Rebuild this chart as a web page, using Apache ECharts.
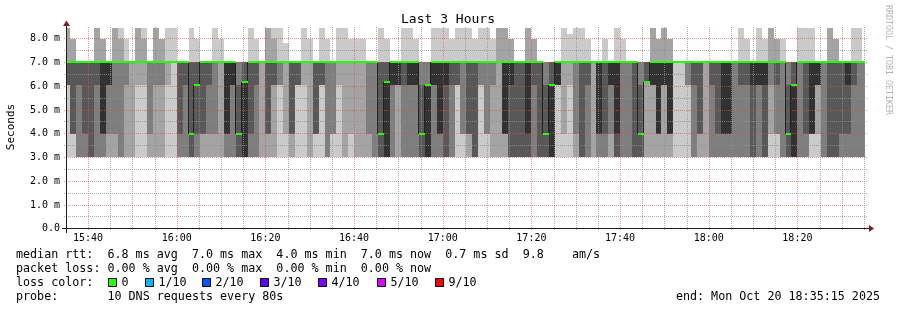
<!DOCTYPE html>
<html><head><meta charset="utf-8">
<script src="https://cdn.jsdelivr.net/npm/echarts@6/dist/echarts.min.js"></script>
<style>html,body{margin:0;padding:0;background:#fff}#c{width:897px;height:310px}</style>
</head><body><div id="c"></div>
<script>
// ---- data ----
const rttLevelsMs = {a:3.0, b:3.95, c:6.05, g:6.15, d:7.0, h:7.8, e:7.95, i:8.2, f:8.45};
const stepSec = 80;
const firstStepStart = 56080;   // 15:34:40 (seconds of day)
const viewStart = 56115;        // 15:35:15
const viewEnd = 66915;          // 18:35:15
// 10 pings per 80 s step, one letter per ping (level in rttLevelsMs)
const pingCodes = [
"acccddddff","abbbddddee","aaacdddddd","aaabdddddd","aaaadddddd","aaacddddff","aaabbdddee","aabccddddd",
"aabdddddff","aaadddddef","aacdddddde","aadddddddd","acddddddff","acddddddef","aabddddddd","aacdddddff",
"aacdddddee","acdddddddf","addddddddf","aaabdddddd","aaacdddddd","aaaabbdddf","aaabccddde","aabbdddddd",
"aabcdddddd","aabddddddf","aaddddddde","aaabbddddd","aaaccddddd","aaaabbcddd","aaaaagdddd","aaabdddddf",
"aaacddddde","aadddddddd","aabbddddff","aaccddddef","accddddddf","abdddddddh","aabbdddddd","acccdddddd",
"acdddddddf","aaddddddde","abbbdddddd","acccdddddf","aaadddddde","abbddddddd","acdddddddf","aadddddddf",
"abddddddde","aaddddddde","aaddddddde","aabddddddd","aaaddddddd","aaaabbdddf","aaaaagddde","aaaccddddd",
"aacccddddd","aaacdddddf","aaaccddddf","aaaccdddde","aaaabbcddd","aaaaaccddd","aaaccddddf","aaabbddddf",
"aaaacddddf","aaacddddde","acccdddddf","abbddddddf","aabbdddddf","aaaaddddde","accddddddf","abbddddddf",
"aacdddddde","aaddddddff","aabbbdddff","aaaacdddee","aaaadddddd","aaaadddddd","aaaabdddff","aaacddddee",
"aaaadddddd","aaaabbcddd","aaaaacdddd","accccddddd","abdddddddf","acdddddddi","aabddddddf","aaaadddddf",
"aaacddddde","aadddddddd","aaabbddddd","aaabddddde","aabccddddd","aaaabddddf","aaadddddde","aaaddddddd",
"aaaadddddd","aaaabbcddd","aaggggdddd","aacccdddff","aabbbdddee","aacccdddff","aabbbdddee","addddddddd",
"addddddddd","accddddddd","aaacdddddd","aabbdddddd","aadddddddd","aaacdddddd","aaabdddddd","aaabbddddd",
"aaabbddddd","aaaddddddd","aaacdddddf","aaacddddde","aaaacddddd","aaaccddddf","aaaacdddde","abcdddddff",
"abbcddddee","aaadddddde","aaaabbcddd","aaaaacdddd","aaaddddddf","aaabdddddf","abbbbddddf","abcccddddd",
"aaaddddddd","aaaaddddff","aaaaddddee","aaabdddddd","aaabcddddd","aaacdddddf","aaaddddddf","aaaddddddd"
];
const xTickLabels = ['15:40','16:00','16:20','16:40','17:00','17:20','17:40','18:00','18:20'];
const yTickLabels = ['0.0','1.0 m','2.0 m','3.0 m','4.0 m','5.0 m','6.0 m','7.0 m','8.0 m'];
const lossColors = ['#26ff00','#00b8ff','#0059ff','#5e00ff','#7e00ff','#dd00ff','#ff0000'];
const lossLabels = ['0','1/10','2/10','3/10','4/10','5/10','9/10'];
const statLines = [
  'median rtt:  6.8 ms avg  7.0 ms max  4.0 ms min  7.0 ms now  0.7 ms sd  9.8    am/s',
  'packet loss: 0.00 % avg  0.00 % max  0.00 % min  0.00 % now',
  'loss color:',
  'probe:       10 DNS requests every 80s'
];
const endText = 'end: Mon Oct 20 18:35:15 2025';

// ---- derived ----
const smokeGrays = ['#cacaca','#a4a4a4','#7e7e7e','#585858','#323232'];
const pings = pingCodes.map(s => s.split('').map(ch => rttLevelsMs[ch]).sort((x,y)=>x-y));
const medians = pings.map(p => p[5]);
const stepRows = pings.map((p,i) => [firstStepStart + i*stepSec, firstStepStart + (i+1)*stepSec, i]);
const toSec = l => { const [h,m] = l.split(':').map(Number); return h*3600 + m*60; };
const xMajor = xTickLabels.map(toSec);
const gridRows = [];
for (let t = xMajor[0]; t <= viewEnd; t += 300) gridRows.push({o:0, v:t, major: xMajor.indexOf(t) >= 0});
for (let k = 1; k <= 16; k++) gridRows.push({o:1, v:k*0.5, major: k % 2 === 0});
const labelRows = xTickLabels.map((l,i)=>({o:0, v:xMajor[i], text:l})).concat(yTickLabels.map((l,i)=>({o:1, v:i, text:l})));

const MONO = '"DejaVu Sans Mono", "Liberation Mono", monospace';
const chart = echarts.init(document.getElementById('c'), null, {width:897, height:310});

const option = {
  animation: false,
  backgroundColor: '#ffffff',
  grid: {left: 67, right: 32, top: 26.425, bottom: 81.7},
  xAxis: {type: 'value', min: viewStart, max: viewEnd, show: false},
  yAxis: {type: 'value', min: 0, max: 8.5, show: false},
  series: [
    { // smoke
      type: 'custom', z: 1, silent: true, clip: true,
      encode: {x: [0,1]},
      data: stepRows,
      renderItem(params, api) {
        const i = params.dataIndex;
        const p = pings[i];
        const cs = params.coordSys;
        const t0 = stepRows[i][0], t1 = stepRows[i][1];
        const children = [];
        let x0 = Math.round(api.coord([t0, 0])[0]);
        let x1 = Math.round(api.coord([t1, 0])[0]);
        x0 = Math.max(x0, cs.x); x1 = Math.min(x1, cs.x + cs.width);
        if (x1 <= x0) return null;
        for (let k = 0; k < 5; k++) {
          const lo = p[k], hi = p[9-k];
          if (hi <= lo) continue;
          const yTop = Math.round(api.coord([t0, hi])[1]);
          const yBot = Math.round(api.coord([t0, lo])[1]);
          children.push({type:'rect', shape:{x:x0, y:yTop, width:x1-x0, height:yBot-yTop}, style:{fill:smokeGrays[k]}});
        }
        return {type:'group', children};
      }
    },
    { // median: dark step connectors
      type: 'custom', z: 6, silent: true, clip: true,
      encode: {x: [0,1]},
      data: stepRows,
      renderItem(params, api) {
        const i = params.dataIndex;
        if (i === 0 || medians[i] === medians[i-1]) return null;
        const t0 = stepRows[i][0];
        const x = Math.round(api.coord([t0, 0])[0]) - 0.5;
        const ya = Math.round(api.coord([t0, medians[i-1]])[1]);
        const yb = Math.round(api.coord([t0, medians[i]])[1]);
        return {type:'line', shape:{x1:x, y1:ya, x2:x, y2:yb}, style:{stroke:'#202020', lineWidth:1}};
      }
    },
    { // median: loss-coloured segments
      type: 'custom', z: 7, silent: true, clip: true,
      encode: {x: [0,1]},
      data: stepRows,
      renderItem(params, api) {
        const i = params.dataIndex;
        const cs = params.coordSys;
        let x0 = Math.round(api.coord([stepRows[i][0], 0])[0]);
        let x1 = Math.round(api.coord([stepRows[i][1], 0])[0]);
        x0 = Math.max(x0, cs.x); x1 = Math.min(x1, cs.x + cs.width);
        const y = Math.round(api.coord([stepRows[i][0], medians[i]])[1]);
        return {type:'rect', shape:{x:x0, y:y-1, width:x1-x0, height:2}, style:{fill:lossColors[0]}};
      }
    },
    { // axis tick labels
      type: 'custom', z: 8, silent: true, clip: false,
      data: labelRows.map((r, i) => [i]),
      renderItem(params, api) {
        const r = labelRows[params.dataIndex];
        const cs = params.coordSys;
        if (r.o === 0) {
          const x = api.coord([r.v, 0])[0];
          return {type:'text', style:{text:r.text, x:x, y:cs.y+cs.height+10.5, font:'10px ' + MONO, fill:'#000',
            textAlign:'center', textVerticalAlign:'middle', align:'center', verticalAlign:'middle'}};
        }
        const y = api.coord([viewStart, r.v])[1];
        return {type:'text', style:{text:r.text, x:cs.x-7, y:y+0.5, font:'10px ' + MONO, fill:'#000',
          textAlign:'right', textVerticalAlign:'middle', align:'right', verticalAlign:'middle'}};
      }
    }
  ]
};
chart.setOption(option);

// ---- grid lines (over the smoke, as rrdtool draws them), placed with the chart's own scales ----
const px = (t, v) => chart.convertToPixel({gridIndex: 0}, [t, v]);
const g = [];
const plotTop = px(viewStart, 8.5)[1], plotBottom = px(viewStart, 0)[1];
const plotLeft = px(viewStart, 0)[0], plotRight = px(viewEnd, 0)[0];
gridRows.forEach(r => {
  const stroke = r.major ? 'rgba(222,79,79,0.6)' : 'rgba(143,143,143,0.75)';
  let shape;
  if (r.o === 0) {
    const x = Math.round(px(r.v, 0)[0]) + 0.5;
    shape = {x1:x, y1:Math.ceil(plotTop), x2:x, y2:Math.round(plotBottom) + 3};
  } else {
    const y = Math.round(px(viewStart, r.v)[1]) + 0.5;
    shape = {x1:Math.round(plotLeft) - 3, y1:y, x2:Math.round(plotRight) + 2, y2:y};
  }
  g.push({type:'line', z:3, silent:true, shape, style:{stroke, lineWidth:1, lineDash:[1,1]}});
});

const txt = (text, x, y, font, opts) => Object.assign({type:'text', z:100, silent:true,
  style: Object.assign({text, x, y, font, fill:'#000', textAlign:'left', textVerticalAlign:'middle', align:'left', verticalAlign:'middle'}, opts || {})});
g.push(txt('Last 3 Hours', 448, 20, '13px ' + MONO, {textAlign:'center', align:'center'}));
g.push(Object.assign(txt('Seconds', 0, 0, '11px ' + MONO, {textAlign:'center', align:'center'}), {x:11, y:127, rotation:Math.PI/2}));
g.push(Object.assign(txt('RRDTOOL / TOBI OETIKER', 0, 0, '8.3px ' + MONO, {textAlign:'center', align:'center', fill:'#b4b4b4'}), {x:888, y:60, rotation:-Math.PI/2}));
// axes
const axY = Math.round(plotBottom) + 0.5, axX = Math.round(plotLeft) - 0.5;
g.push({type:'line', z:100, silent:true, shape:{x1:62, y1:axY, x2:870, y2:axY}, style:{stroke:'#1f1f1f', lineWidth:1}});
g.push({type:'line', z:100, silent:true, shape:{x1:axX, y1:233, x2:axX, y2:24}, style:{stroke:'#1f1f1f', lineWidth:1}});
g.push({type:'polygon', z:101, silent:true, shape:{points:[[869,axY-3.5],[874,axY],[869,axY+3.5]]}, style:{fill:'#801f1f'}});
g.push({type:'polygon', z:101, silent:true, shape:{points:[[axX-3.5,26],[axX,20.5],[axX+3.5,26]]}, style:{fill:'#801f1f'}});
// legend / statistics
const legendFont = '11.7px ' + MONO;
const lineY = [255, 268.5, 282.5, 296.5];
statLines.forEach((s, i) => g.push(txt(s, 16, lineY[i], legendFont)));
const boxX = [108.5, 145.5, 202.5, 260.5, 318.5, 377.5, 435.5];
lossColors.forEach((c, i) => {
  g.push({type:'rect', z:100, silent:true, shape:{x:boxX[i], y:278.5, width:8, height:8}, style:{fill:c, stroke:'#000', lineWidth:1}});
  g.push(txt(lossLabels[i], boxX[i] + 13, lineY[2], legendFont));
});
g.push(txt(endText, 880, lineY[3], legendFont, {textAlign:'right', align:'right'}));
chart.setOption({graphic: g});
</script>
</body></html>
